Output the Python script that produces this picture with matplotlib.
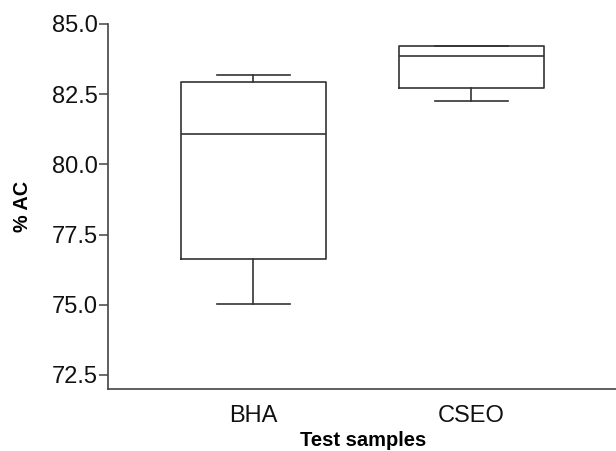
import matplotlib
matplotlib.use("Agg")
import matplotlib.pyplot as plt

plt.rcParams['font.family'] = ['Liberation Sans', 'DejaVu Sans']

categories = ["BHA", "CSEO"]
whisker_low = [75.03, 82.26]
q1 = [76.63, 82.72]
median = [81.08, 83.86]
q3 = [82.93, 84.22]
whisker_high = [83.18, 84.22]
yticks = [72.5, 75.0, 77.5, 80.0, 82.5, 85.0]

stats = []
for i, c in enumerate(categories):
    stats.append(dict(label=c, whislo=whisker_low[i], q1=q1[i], med=median[i],
                      q3=q3[i], whishi=whisker_high[i], fliers=[]))

W, H = 616, 451
fig = plt.figure(figsize=(W / 100, H / 100), dpi=100)
ax = fig.add_axes([108 / W, (H - 389) / H, (618 - 108) / W, (389 - 24) / H])

lc = '#333333'
lw = 1.2
ax.bxp(stats, positions=[0, 1], widths=0.665, showfliers=False,
       boxprops=dict(color=lc, linewidth=lw),
       medianprops=dict(color=lc, linewidth=lw),
       whiskerprops=dict(color=lc, linewidth=lw),
       capprops=dict(color=lc, linewidth=lw),
       capwidths=0.335)

ax.set_xlim(-0.667, 1.672)
ax.set_ylim(72.0, 85.0)
ax.set_yticks(yticks)
ax.set_yticklabels([f"{v:.1f}" for v in yticks])
ax.set_xticks([0, 1])
ax.set_xticklabels(categories)

for s in ['top', 'right']:
    ax.spines[s].set_visible(False)
for s in ['left', 'bottom']:
    ax.spines[s].set_color('#444444')
    ax.spines[s].set_linewidth(1.2)

ax.tick_params(axis='y', direction='out', length=6.5, width=1.1, color='#444444',
               labelsize=17, pad=1, labelcolor='#111111')
ax.tick_params(axis='x', length=0, labelsize=17, pad=11.5, labelcolor='#111111')

ax.set_ylabel("% AC", fontsize=14.3, fontweight='bold', labelpad=14)
ax.set_xlabel("Test samples", fontsize=14.5, fontweight='bold', labelpad=3)

fig.savefig("out.png", dpi=100)
